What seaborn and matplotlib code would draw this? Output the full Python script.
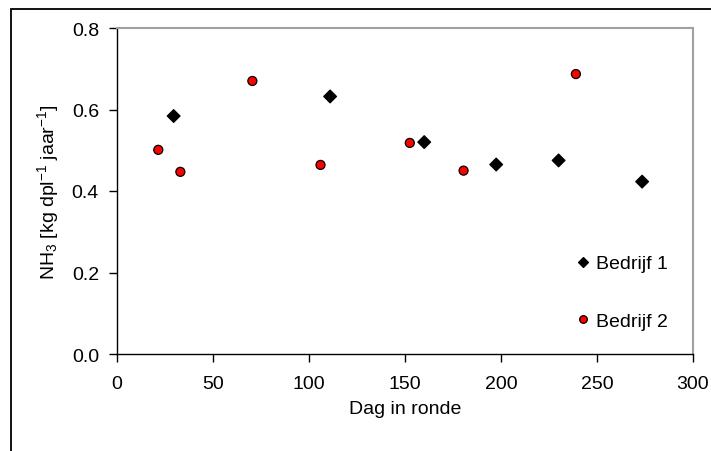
import numpy as np
import pandas as pd
import matplotlib
matplotlib.use("Agg")
import matplotlib.pyplot as plt
import seaborn as sns
from matplotlib.patches import Rectangle

# Bedrijf 1 (black diamonds)
dag_b1 = [29.5, 111, 160, 197.5, 230, 273.5]
nh3_b1 = [0.584, 0.632, 0.520, 0.465, 0.475, 0.423]

# Bedrijf 2 (red circles)
dag_b2 = [21.5, 33, 70.5, 106, 152.5, 180.5, 239]
nh3_b2 = [0.501, 0.447, 0.670, 0.464, 0.518, 0.450, 0.687]

series = ["Bedrijf 1", "Bedrijf 2"]
x_ticks = [0, 50, 100, 150, 200, 250, 300]
y_ticks = [0.0, 0.2, 0.4, 0.6, 0.8]

df = pd.DataFrame({
    "dag": dag_b1 + dag_b2,
    "nh3": nh3_b1 + nh3_b2,
    "bedrijf": [series[0]] * len(dag_b1) + [series[1]] * len(dag_b2),
})

sns.set_style("white")
plt.rcParams["font.family"] = ["Liberation Sans", "DejaVu Sans"]
plt.rcParams["mathtext.fontset"] = "custom"
plt.rcParams["mathtext.rm"] = "Liberation Sans"
plt.rcParams["mathtext.it"] = "Liberation Sans"
plt.rcParams["mathtext.default"] = "rm"
for key in ["text.color", "axes.labelcolor", "xtick.color", "ytick.color"]:
    plt.rcParams[key] = "black"

fs = 14

fig = plt.figure(figsize=(7.11, 4.52), dpi=100)
ax = fig.add_axes([117 / 711, 1 - 355 / 452, (693 - 117) / 711, (355 - 29) / 452])

# outer chart frame (cut off at right and bottom)
fig.patches.append(Rectangle((11 / 711, -0.1), 1.2, 1 - 10 / 452 + 0.1,
                             transform=fig.transFigure, fill=False,
                             edgecolor="black", linewidth=1.3, zorder=0))

sns.scatterplot(data=df, x="dag", y="nh3", hue="bedrijf", style="bedrijf",
                palette={"Bedrijf 1": "black", "Bedrijf 2": "red"},
                markers={"Bedrijf 1": "D", "Bedrijf 2": "o"},
                s=42, edgecolor="black", linewidth=0.9, ax=ax, zorder=3)

ax.set_xlim(0, 300)
ax.set_ylim(0, 0.8)
ax.set_xticks(x_ticks)
ax.set_yticks(y_ticks)
ax.set_yticklabels([f"{v:.1f}" for v in y_ticks])
ax.tick_params(axis="both", direction="out", length=6, width=1, labelsize=fs,
               colors="black", pad=7, bottom=True, left=True)
ax.tick_params(axis="x", pad=9)

for side in ["top", "right"]:
    ax.spines[side].set_color("#a0a0a0")
    ax.spines[side].set_linewidth(1.5)
for side in ["left", "bottom"]:
    ax.spines[side].set_color("black")
    ax.spines[side].set_linewidth(1.0)

ax.set_xlabel("Dag in ronde", fontsize=fs, labelpad=6)
ax.set_ylabel(r"NH$_3$ [kg dpl$^{-1}$ jaar$^{-1}$]", fontsize=fs, labelpad=8)

handles, labels = ax.get_legend_handles_labels()
for h in handles:
    h.set_markersize(5.5)
ax.legend(handles, labels, frameon=False, fontsize=fs, loc="center left",
          bbox_to_anchor=(0.765, 0.189), labelspacing=2.05, handletextpad=0.28,
          handlelength=0.8, borderpad=0.4)

fig.savefig("out.png", dpi=100)
